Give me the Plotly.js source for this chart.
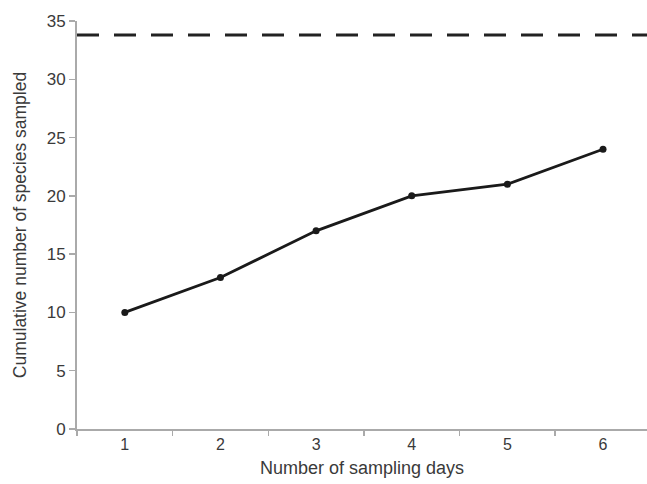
<!DOCTYPE html>
<html>
<head>
<meta charset="utf-8">
<script src="https://cdn.plot.ly/plotly-3.0.1.min.js"></script>
<style>html,body{margin:0;padding:0;background:#fff;}#chart{width:647px;height:484px;}</style>
</head>
<body>
<div id="chart"></div>
<script>
const days = ['1', '2', '3', '4', '5', '6'];
const cumulativeSpecies = [10, 13, 17, 20, 21, 24];
const totalSpecies = 33.8;
const yTicks = [0, 5, 10, 15, 20, 25, 30, 35];

const font = {family: 'Liberation Sans, Arial, sans-serif', color: '#3a3a3a'};

Plotly.newPlot('chart', [{
  x: days,
  y: cumulativeSpecies,
  type: 'scatter',
  mode: 'lines+markers',
  line: {color: '#1a1a1a', width: 2.8},
  marker: {color: '#1a1a1a', size: 7},
  hoverinfo: 'skip'
}], {
  width: 647, height: 484,
  margin: {l: 77, r: 0, t: 21, b: 55},
  paper_bgcolor: '#fff', plot_bgcolor: '#fff',
  showlegend: false,
  xaxis: {
    type: 'category',
    range: [-0.5, 5.46],
    tickson: 'boundaries',
    ticks: 'outside', ticklen: 5, tickwidth: 1.5, tickcolor: '#aaa',
    showline: true, linecolor: '#aaa', linewidth: 2,
    showgrid: false, zeroline: false,
    tickfont: Object.assign({size: 16}, font),
    title: {text: 'Number of sampling days', font: Object.assign({size: 18}, font), standoff: 9}
  },
  yaxis: {
    range: [0, 35],
    tickmode: 'array', tickvals: yTicks, ticktext: yTicks.map(String),
    ticks: 'outside', ticklen: 6, tickwidth: 1.5, tickcolor: '#aaa',
    showline: true, linecolor: '#aaa', linewidth: 2,
    showgrid: false, zeroline: false,
    tickfont: Object.assign({size: 17}, font),
    title: {text: 'Cumulative number of species sampled', font: Object.assign({size: 17.5}, font), standoff: 16}
  },
  shapes: [{
    type: 'line', xref: 'paper', yref: 'y',
    x0: 0, x1: 1, y0: totalSpecies, y1: totalSpecies,
    line: {color: '#222', width: 3, dash: '22px,15px'}
  }]
}, {displayModeBar: false, staticPlot: true});
</script>
</body>
</html>
